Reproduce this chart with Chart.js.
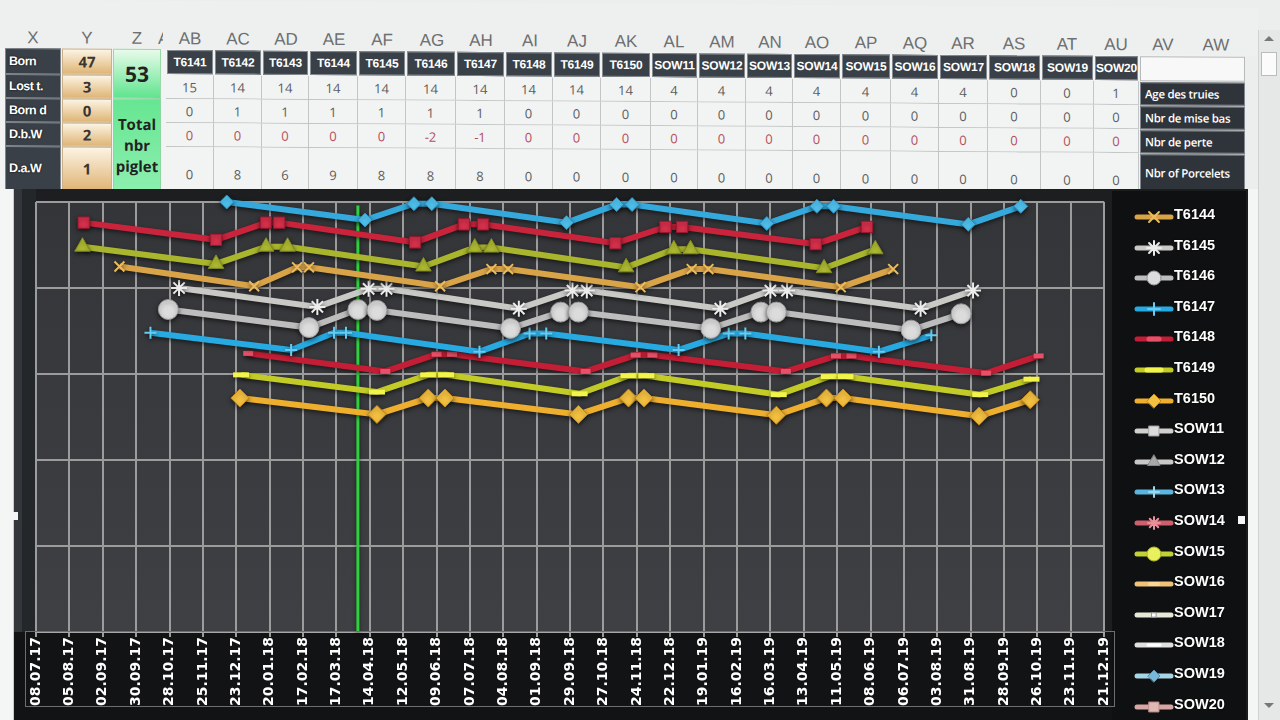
<!DOCTYPE html>
<html><head><meta charset="utf-8"><title>Suivi truies</title>
<script src="https://cdn.jsdelivr.net/npm/chart.js@4.4.1/dist/chart.umd.min.js"></script>
<style>
html,body{margin:0;padding:0;}
body{width:1280px;height:720px;overflow:hidden;position:relative;background:#eceeed;font-family:"Open Sans","Liberation Sans",sans-serif;}
.abs{position:absolute;box-sizing:border-box;}
#sheet{position:absolute;left:0;top:0;width:1280px;height:200px;transform:skewY(0.36deg);transform-origin:0 0;}
.let{font:17px "Liberation Sans",sans-serif;color:#6d6f70;text-align:center;line-height:20px;}
.hd{background:#394047;border:1px solid #858b90;color:#fff;font:bold 12px "Liberation Sans",sans-serif;letter-spacing:-0.2px;display:flex;align-items:center;justify-content:center;}
.val{background:#f2f3f3;border-right:1px solid #c3c6c6;border-bottom:1px solid #c3c6c6;color:#5b5e60;font:13px "Open Sans",sans-serif;text-align:center;}
.lab{background:#3a4047;border:1px solid #80868b;color:#fff;font:bold 12.5px "Liberation Sans",sans-serif;letter-spacing:-0.5px;padding-left:3px;display:flex;align-items:center;text-shadow:0 0 2px #000;}
.ycell{background:linear-gradient(#fcf4e4,#dfb576);border:1px solid #c9b08a;color:#3a3530;font:bold 15px "Open Sans",sans-serif;display:flex;align-items:center;justify-content:center;}
.rlab{background:#2f343a;border:1px solid #80868b;color:#fff;font:600 11.5px "Open Sans",sans-serif;letter-spacing:-0.3px;padding-left:4px;display:flex;align-items:center;}
#legend{position:absolute;left:1112px;top:191px;width:134px;height:529px;overflow:hidden;background:#0f1011;}
.li{position:absolute;left:0;height:22px;width:134px;}
.li span{position:absolute;left:62px;top:0;line-height:22px;color:#fff;font:bold 14.5px "Liberation Sans",sans-serif;text-shadow:0 0 2px #000;}
.li canvas{position:absolute;left:22px;top:1px;}
</style></head><body>
<div id="sheet"></div>
<div class="abs" style="left:14px;top:189px;width:1234px;height:531px;background:#1b1c1e;"></div>
<div class="abs" style="left:14px;top:189px;width:1107px;height:531px;"><canvas id="c" width="1107" height="531"></canvas></div>
<div id="legend"></div>
<div class="abs" style="left:25px;top:631px;width:1090px;height:76px;border:1px solid #6c6e70;"></div>
<div class="abs" style="left:0;top:189px;width:14px;height:531px;background:#f4f5f5;border-right:1px solid #c9cccc;"></div>
<div class="abs" style="left:1248px;top:189px;width:10px;height:531px;background:#f4f5f5;"></div>
<div class="abs" style="left:1258px;top:30px;width:22px;height:690px;background:#e6e8e8;border-left:1px solid #cfd2d2;"></div>
<div class="abs" style="left:1261px;top:52px;width:16px;height:24px;background:#fbfbfb;border:1px solid #b9bcbc;"></div>
<div class="abs" style="left:1264px;top:36px;width:0;height:0;border-left:5px solid transparent;border-right:5px solid transparent;border-bottom:5px solid #777;"></div>
<div class="abs" style="left:1264px;top:703px;width:0;height:0;border-left:5px solid transparent;border-right:5px solid transparent;border-top:5px solid #777;"></div>
<div class="abs" style="left:1238px;top:516px;width:7px;height:8px;background:#f6f6f6;"></div>
<div class="abs" style="left:11px;top:512px;width:7px;height:8px;background:#f6f6f6;"></div>
<script>
// ---------- DATA ----------
const tickLabels = ['08.07.17','05.08.17','02.09.17','30.09.17','28.10.17','25.11.17','23.12.17','20.01.18','17.02.18','17.03.18','14.04.18','12.05.18','09.06.18','07.07.18','04.08.18','01.09.18','29.09.18','27.10.18','24.11.18','22.12.18','19.01.19','16.02.19','16.03.19','13.04.19','11.05.19','08.06.19','06.07.19','03.08.19','31.08.19','28.09.19','26.10.19','23.11.19','21.12.19'];
const tickStepDays = 28;
const seriesNames = ['T6141','T6142','T6143','T6144','T6145','T6146','T6147','T6148','T6149','T6150','SOW11','SOW12','SOW13','SOW14','SOW15','SOW16','SOW17','SOW18','SOW19','SOW20'];
// x = days since 08.07.17
const t6141Days = [160,276,317,332,445,487,500,613,655,669,782,826];
const t6141Vals = [50.0,47.9,49.8,49.8,47.6,49.7,49.7,47.5,49.5,49.5,47.4,49.5];
const t6142Days = [40,151,193,204,318,359,375,486,528,542,654,697];
const t6142Vals = [47.6,45.6,47.6,47.6,45.3,47.4,47.4,45.2,47.1,47.1,45.1,47.1];
const t6143Days = [39,151,193,211,325,368,382,495,535,549,661,704];
const t6143Vals = [44.8,42.8,44.8,44.8,42.5,44.7,44.7,42.4,44.5,44.5,42.3,44.5];
const t6144Days = [70,183,219,229,339,382,396,507,550,564,675,719];
const t6144Vals = [42.5,40.2,42.4,42.4,40.2,42.2,42.2,40.1,42.2,42.2,40.1,42.2];
const t6145Days = [120,236,279,294,405,450,462,574,616,630,742,786];
const t6145Vals = [40.0,37.8,39.9,39.9,37.6,39.7,39.7,37.6,39.7,39.7,37.6,39.7];
const t6146Days = [111,229,270,286,398,440,455,566,608,621,734,776];
const t6146Vals = [37.5,35.4,37.5,37.4,35.3,37.2,37.2,35.3,37.2,37.2,35.1,37.0];
const t6147Days = [96,214,250,260,372,414,428,539,581,595,707,751];
const t6147Vals = [34.8,32.8,34.8,34.8,32.6,34.7,34.7,32.8,34.7,34.7,32.6,34.5];
const t6148Days = [178,293,336,349,461,503,517,629,671,684,797,841];
const t6148Vals = [32.4,30.3,32.3,32.3,30.3,32.2,32.2,30.3,32.1,32.1,30.1,32.1];
const t6149Days = [172,286,329,344,456,497,512,623,665,679,792,835];
const t6149Vals = [29.9,27.9,29.9,29.9,27.7,29.8,29.8,27.6,29.7,29.7,27.6,29.4];
const t6150Days = [171,286,329,343,455,497,510,621,663,677,791,834];
const t6150Vals = [27.2,25.3,27.2,27.2,25.3,27.2,27.2,25.2,27.2,27.2,25.1,27.0];
const sowDays = [];   // SOW11..SOW20: no points plotted
const sowVals = [];
const todayDay = 270;
const todayRange = [0, 49.6];

// table data
const summaryLabels = ['Born','Lost t.','Born d','D.b.W','D.a.W'];
const summaryValues = [47,3,0,2,1];
const totalPiglets = 53;
const ageTruies    = [15,14,14,14,14,14,14,14,14,14,4,4,4,4,4,4,4,0,0,1];
const nbrMiseBas   = [0,1,1,1,1,1,1,0,0,0,0,0,0,0,0,0,0,0,0,0];
const nbrPerte     = [0,0,0,0,0,-2,-1,0,0,0,0,0,0,0,0,0,0,0,0,0];
const nbrPorcelets = [0,8,6,9,8,8,8,0,0,0,0,0,0,0,0,0,0,0,0,0];
const rowTitles = ['Age des truies','Nbr de mise bas','Nbr de perte','Nbr of Porcelets'];
const colLetters = ['X','Y','Z','AB','AC','AD','AE','AF','AG','AH','AI','AJ','AK','AL','AM','AN','AO','AP','AQ','AR','AS','AT','AU','AV','AW'];

// ---------- LAYOUT / STYLE ----------
const letterX = [33,87,137,190,238,286,334,382,432,481,530,577,626,674,722,770,817,866,915,963,1014,1067,1116,1163,1216];
const colEdges = [166,214,262,309,358,406,456,505,553,601,651,698,746,793,841,891,939,988,1041,1094,1139];
const rowsY = [[48,74],[74,98],[98,122],[122,146],[146,190]];

const sheet = document.getElementById('sheet');
function box(l,t,w,h,cls,css,html){const d=document.createElement('div');d.className='abs '+(cls||'');d.style.cssText=`left:${l}px;top:${t}px;width:${w}px;height:${h}px;`+(css||'');if(html!==undefined)d.innerHTML=html;sheet.appendChild(d);return d;}
box(0,0,1258,48,'','background:#eef0ef;');
colLetters.forEach((t,i)=>box(letterX[i]-22,28,44,20,'let','',t));
box(158,28,5,20,'let','overflow:hidden;text-align:left;','<span style="position:absolute;left:0;top:0">A</span>');
box(0,48,1245,142,'','background:#f2f3f3;');
summaryLabels.forEach((t,r)=>{const [a,b]=rowsY[r];box(5,a,56,b-a,'lab','',t);box(62,a,50,b-a,'ycell','',String(summaryValues[r]));});
box(113,48,48,50,'','background:linear-gradient(#e8fbea,#5fe48e);border:1px solid #9ad8aa;display:flex;align-items:center;justify-content:center;font:bold 21px "Open Sans",sans-serif;color:#222;',String(totalPiglets));
box(113,98,48,92,'','background:linear-gradient(#66e692,#8cefae);border:1px solid #8ad8a0;display:flex;align-items:center;justify-content:center;text-align:center;font:bold 15px/21px "Open Sans",sans-serif;color:#222;','Total<br>nbr<br>piglet');
const tableRows=[ageTruies,nbrMiseBas,nbrPerte,nbrPorcelets];
seriesNames.forEach((n,i)=>{
  const l=colEdges[i],w=colEdges[i+1]-colEdges[i];
  box(l+1,rowsY[0][0]+1,w-2,rowsY[0][1]-rowsY[0][0]-2,'hd','',n);
  tableRows.forEach((arr,k)=>{const [a,b]=rowsY[k+1];const h=b-a;
    const col=k===2?'#b4505c':'#5b5e60';
    const lh=k===3?`line-height:${2*h-34}px;`:`line-height:${h}px;`;
    box(l,a,w,h,'val',`color:${col};${lh}`,String(arr[i]));});
});
box(1140,rowsY[0][0]+1,105,rowsY[0][1]-rowsY[0][0]-1,'','background:#f8f8f8;border:1px solid #b5b9b9;');
rowTitles.forEach((t,k)=>{const [a,b]=rowsY[k+1];box(1140,a+1,105,b-a-1,'rlab',k===3?'padding-bottom:6px;':'',t);});

const styles = {
 T6141:{c:'#35a9dc',ps:'rectRot',r:7,fill:'#4fc3ef',stroke:'#2a8cc0',bw:1},
 T6142:{c:'#c9243c',ps:'rect',r:8,fill:'#d9304c',stroke:'#9c1830',bw:1},
 T6143:{c:'#a9b52c',ps:'triangle',r:9,fill:'#b3bf32',stroke:'#7f8a20',bw:1},
 T6144:{c:'#d9a348',ps:'crossRot',r:7,fill:'#ecbc5c',stroke:'#ecbc5c',bw:2},
 T6145:{c:'#c9c9c6',ps:'star',r:8,fill:'#e6e6e6',stroke:'#ececec',bw:2},
 T6146:{c:'#bdbdbd',ps:'circle',r:10,fill:'#dcdcdc',stroke:'#9a9a9a',bw:1},
 T6147:{c:'#27a9e1',ps:'cross',r:6,fill:'#66ccf2',stroke:'#66ccf2',bw:2},
 T6148:{c:'#c41e36',ps:'line',r:5,fill:'#e8506a',stroke:'#e8506a',bw:5},
 T6149:{c:'#c3cc26',ps:'line',r:8,fill:'#f2f44c',stroke:'#f2f44c',bw:5},
 T6150:{c:'#eeae2e',ps:'rectRot',r:9,fill:'#f4c040',stroke:'#c88a18',bw:1},
 SOW11:{c:'#d0d0cc',ps:'rect',r:7,fill:'#dcdcdc',stroke:'#aaaaaa',bw:1},
 SOW12:{c:'#c8c8c8',ps:'triangle',r:7,fill:'#a8a8a8',stroke:'#888888',bw:1},
 SOW13:{c:'#5ab6e0',ps:'cross',r:5,fill:'#9ad8f0',stroke:'#9ad8f0',bw:2},
 SOW14:{c:'#cf5f6c',ps:'star',r:6,fill:'#e8909a',stroke:'#e8909a',bw:2},
 SOW15:{c:'#c2d236',ps:'circle',r:7,fill:'#e8f060',stroke:'#b0b820',bw:1},
 SOW16:{c:'#f2c377',ps:'line',r:4,fill:'#f8d898',stroke:'#f8d898',bw:4},
 SOW17:{c:'#e6e8d8',ps:'rect',r:3,fill:'#ffffff',stroke:'#999999',bw:1},
 SOW18:{c:'#e0e0e0',ps:'line',r:6,fill:'#ffffff',stroke:'#ffffff',bw:3},
 SOW19:{c:'#a6d6e6',ps:'rectRot',r:6,fill:'#78b8d8',stroke:'#5090b0',bw:1},
 SOW20:{c:'#d8a6a4',ps:'rect',r:8,fill:'#e0b8b4',stroke:'#c09090',bw:1}
};
const seriesDays = [t6141Days,t6142Days,t6143Days,t6144Days,t6145Days,t6146Days,t6147Days,t6148Days,t6149Days,t6150Days];
const seriesVals = [t6141Vals,t6142Vals,t6143Vals,t6144Vals,t6145Vals,t6146Vals,t6147Vals,t6148Vals,t6149Vals,t6150Vals];

const datasets = seriesNames.map((n,i)=>{
  const d = seriesDays[i]||sowDays, v = seriesVals[i]||sowVals, s = styles[n];
  return {label:n,data:d.map((x,j)=>({x:x,y:v[j]})),borderColor:s.c,borderWidth:6,tension:0,
    pointStyle:s.ps,pointRadius:s.r,pointBackgroundColor:s.fill,pointBorderColor:s.stroke,pointBorderWidth:s.bw,clip:false,order:i};
});
datasets.push({label:'today',data:[{x:todayDay,y:todayRange[0]},{x:todayDay,y:todayRange[1]}],borderColor:'#2fd23e',borderWidth:3,pointRadius:0,order:100,clip:false});

const plotBg = {id:'plotBg',beforeDraw(chart){const {ctx,chartArea:a}=chart;ctx.save();
  ctx.fillStyle='#1d1e20';ctx.fillRect(0,0,chart.width,chart.height);
  ctx.fillStyle='#33363a';ctx.fillRect(0,0,8,a.bottom);
  ctx.fillStyle='#24272a';ctx.fillRect(8,0,a.left-8,a.bottom);
  ctx.fillStyle='#121314';ctx.fillRect(0,a.bottom,chart.width,chart.height-a.bottom);
  const g=ctx.createLinearGradient(0,a.top,0,a.bottom);g.addColorStop(0,'#343538');g.addColorStop(1,'#3f4043');
  ctx.fillStyle=g;ctx.fillRect(a.left,a.top,a.right-a.left,a.bottom-a.top);ctx.restore();},
 beforeDatasetsDraw(chart){const c=chart.ctx;c.save();c.shadowColor='rgba(0,0,0,0.55)';c.shadowBlur=4;c.shadowOffsetY=2;},
 afterDatasetsDraw(chart){chart.ctx.restore();}};

new Chart(document.getElementById('c'),{type:'line',data:{datasets},plugins:[plotBg],
 options:{responsive:false,animation:false,events:[],
  layout:{padding:{left:22,right:6,top:1,bottom:0}},
  plugins:{legend:{display:false},tooltip:{enabled:false}},
  scales:{
   x:{type:'linear',min:0,max:tickStepDays*(tickLabels.length-1),
      afterBuildTicks:s=>{s.ticks=tickLabels.map((l,i)=>({value:i*tickStepDays}));},
      ticks:{autoSkip:false,maxRotation:90,minRotation:90,padding:0,color:'#ffffff',
        font:{family:'DejaVu Sans',weight:'bold',size:14},callback:v=>tickLabels[Math.round(v/tickStepDays)]},
      grid:{color:'#9c9c9c',lineWidth:2,tickLength:5,tickColor:'#9c9c9c'},
      border:{color:'#a8a8a8',width:2},
      afterFit:s=>{s.height=88;}},
   y:{min:0,max:50,ticks:{display:false,stepSize:10},
      grid:{color:'#9c9c9c',lineWidth:2,drawTicks:false},border:{display:false},
      afterFit:s=>{s.width=0;}}
  }}});

// ---------- LEGEND ----------
const legend=document.getElementById('legend');
const dp=(Chart.helpers&&Chart.helpers.drawPoint)?Chart.helpers.drawPoint:null;
seriesNames.forEach((n,i)=>{
  const s=styles[n];const cy=217+(i-3)*30.6-191;
  const it=document.createElement('div');it.className='li';it.style.top=(cy-11)+'px';
  const cv=document.createElement('canvas');cv.width=40;cv.height=20;
  const ctx=cv.getContext('2d');ctx.strokeStyle=s.c;ctx.lineWidth=5;ctx.lineCap='round';
  ctx.beginPath();ctx.moveTo(3,10);ctx.lineTo(37,10);ctx.stroke();
  ctx.fillStyle=s.fill;ctx.strokeStyle=s.stroke;ctx.lineWidth=s.bw;
  if(dp){dp(ctx,{pointStyle:s.ps,radius:Math.min(s.r,7),rotation:0,borderWidth:s.bw},20,10);}
  else{ctx.beginPath();ctx.arc(20,10,Math.min(s.r,7),0,Math.PI*2);ctx.fill();}
  const sp=document.createElement('span');sp.textContent=n;
  it.appendChild(cv);it.appendChild(sp);legend.appendChild(it);
});
</script>
</body></html>
